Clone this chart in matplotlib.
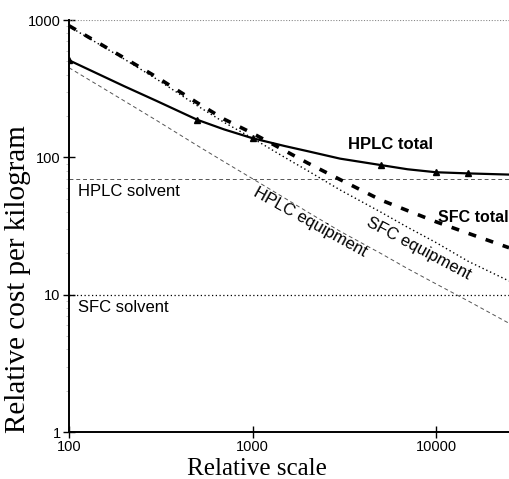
#!/usr/bin/env python3
"""
Relative cost per kilogram vs relative scale, HPLC vs SFC (log-log).
"""
import matplotlib
matplotlib.use("Agg")
import matplotlib.pyplot as plt
from matplotlib.ticker import FixedLocator, NullFormatter, LogLocator

# Data
scale = [100, 200, 300, 500, 700, 1000, 1500, 2000, 3000, 5000, 7000,
         10000, 15000, 25000]
hplc_total = [510, 330, 258, 188, 160, 138, 121, 111, 98, 88, 82,
              78, 76.5, 75]
hplc_markers_x = [100, 500, 1000, 5000, 10000, 15000]
hplc_markers_y = [510, 188, 138, 88, 78, 76.5]
sfc_total = [910, 530, 385, 250, 190, 150, 112, 91, 69, 49, 41,
             34, 28, 22]
hplc_equipment = [450, 258, 186, 122, 93, 70, 50.5, 40, 29, 20, 15.5,
                  12, 9, 6.2]
sfc_equipment = [900, 520, 372, 238, 180, 138, 100, 80, 58, 40, 31,
                 24, 17.5, 12.6]
hplc_solvent = 70
sfc_solvent = 10

x_ticks = [100, 1000, 10000]
y_ticks = [1, 10, 100, 1000]

SANS = "Liberation Sans"
SERIF = "Liberation Serif"

fig = plt.figure(figsize=(5.09, 4.79), dpi=100)
ax = fig.add_axes([0.1356, 0.098, 0.8644, 0.860])

ax.set_xscale("log")
ax.set_yscale("log")
ax.set_xlim(100, 25000)
ax.set_ylim(1, 1000)

# top reference line
ax.axhline(1000, color="#888888", lw=0.8, ls=(0, (1, 1.5)))

# solvent costs
ax.axhline(hplc_solvent, color="#555555", lw=0.7, ls=(0, (4, 3)))
ax.axhline(sfc_solvent, color="black", lw=0.9, ls=(0, (1, 2)))

# equipment costs
ax.plot(scale, hplc_equipment, color="#555555", lw=0.7, ls=(0, (4, 3)))
ax.plot(scale, sfc_equipment, color="black", lw=1.0, ls=(0, (1, 2)))

# totals
ax.plot(scale, sfc_total, color="black", lw=2.6, ls=(0, (2.2, 2.8)))
ax.plot(scale, hplc_total, color="black", lw=1.6)
ax.plot(hplc_markers_x, hplc_markers_y, ls="none",
        marker="^", ms=4, color="black")

# labels on the lines
ax.text(3300, 124, "HPLC total", fontsize=12, fontweight="bold",
        family=SANS, va="center", ha="left")
ax.text(10300, 36.5, "SFC total", fontsize=11.5, fontweight="bold",
        family=SANS, va="center", ha="left")
ax.text(112, 52, "HPLC solvent", fontsize=12, family=SANS,
        va="baseline", ha="left")
ax.text(112, 7.5, "SFC solvent", fontsize=12, family=SANS,
        va="baseline", ha="left")
ax.text(1000, 53, "HPLC equipment", fontsize=12, family=SANS,
        va="baseline", ha="left", rotation=-29, rotation_mode="anchor")
ax.text(4140, 32, "SFC equipment", fontsize=12, family=SANS,
        va="baseline", ha="left", rotation=-28, rotation_mode="anchor")

# axes styling
for side in ["top", "right"]:
    ax.spines[side].set_visible(False)
for side in ["left", "bottom"]:
    ax.spines[side].set_linewidth(1.4)

ax.xaxis.set_major_locator(FixedLocator(x_ticks))
ax.yaxis.set_major_locator(FixedLocator(y_ticks))
ax.set_xticklabels([str(v) for v in x_ticks])
ax.set_yticklabels([str(v) for v in y_ticks])
ax.xaxis.set_minor_locator(FixedLocator([]))
ax.yaxis.set_minor_locator(LogLocator(base=10, subs=range(2, 10)))
ax.yaxis.set_minor_formatter(NullFormatter())
ax.tick_params(axis="both", which="major", direction="inout", length=8,
               width=1.0, labelsize=10.5, pad=2)
ax.tick_params(axis="y", which="minor", direction="out", length=2,
               width=0.4, color="#999999")
for lbl in ax.get_xticklabels() + ax.get_yticklabels():
    lbl.set_family(SANS)

ax.set_xlabel("Relative scale", family=SERIF, fontsize=18)
ax.set_ylabel("Relative cost per kilogram", family=SERIF, fontsize=21)
ax.xaxis.set_label_coords(0.427, -0.09)
ax.yaxis.set_label_coords(-0.115, 0.371)
ax.xaxis.label.set_va("center")
ax.yaxis.label.set_va("center")

fig.savefig("out.png", dpi=100)
